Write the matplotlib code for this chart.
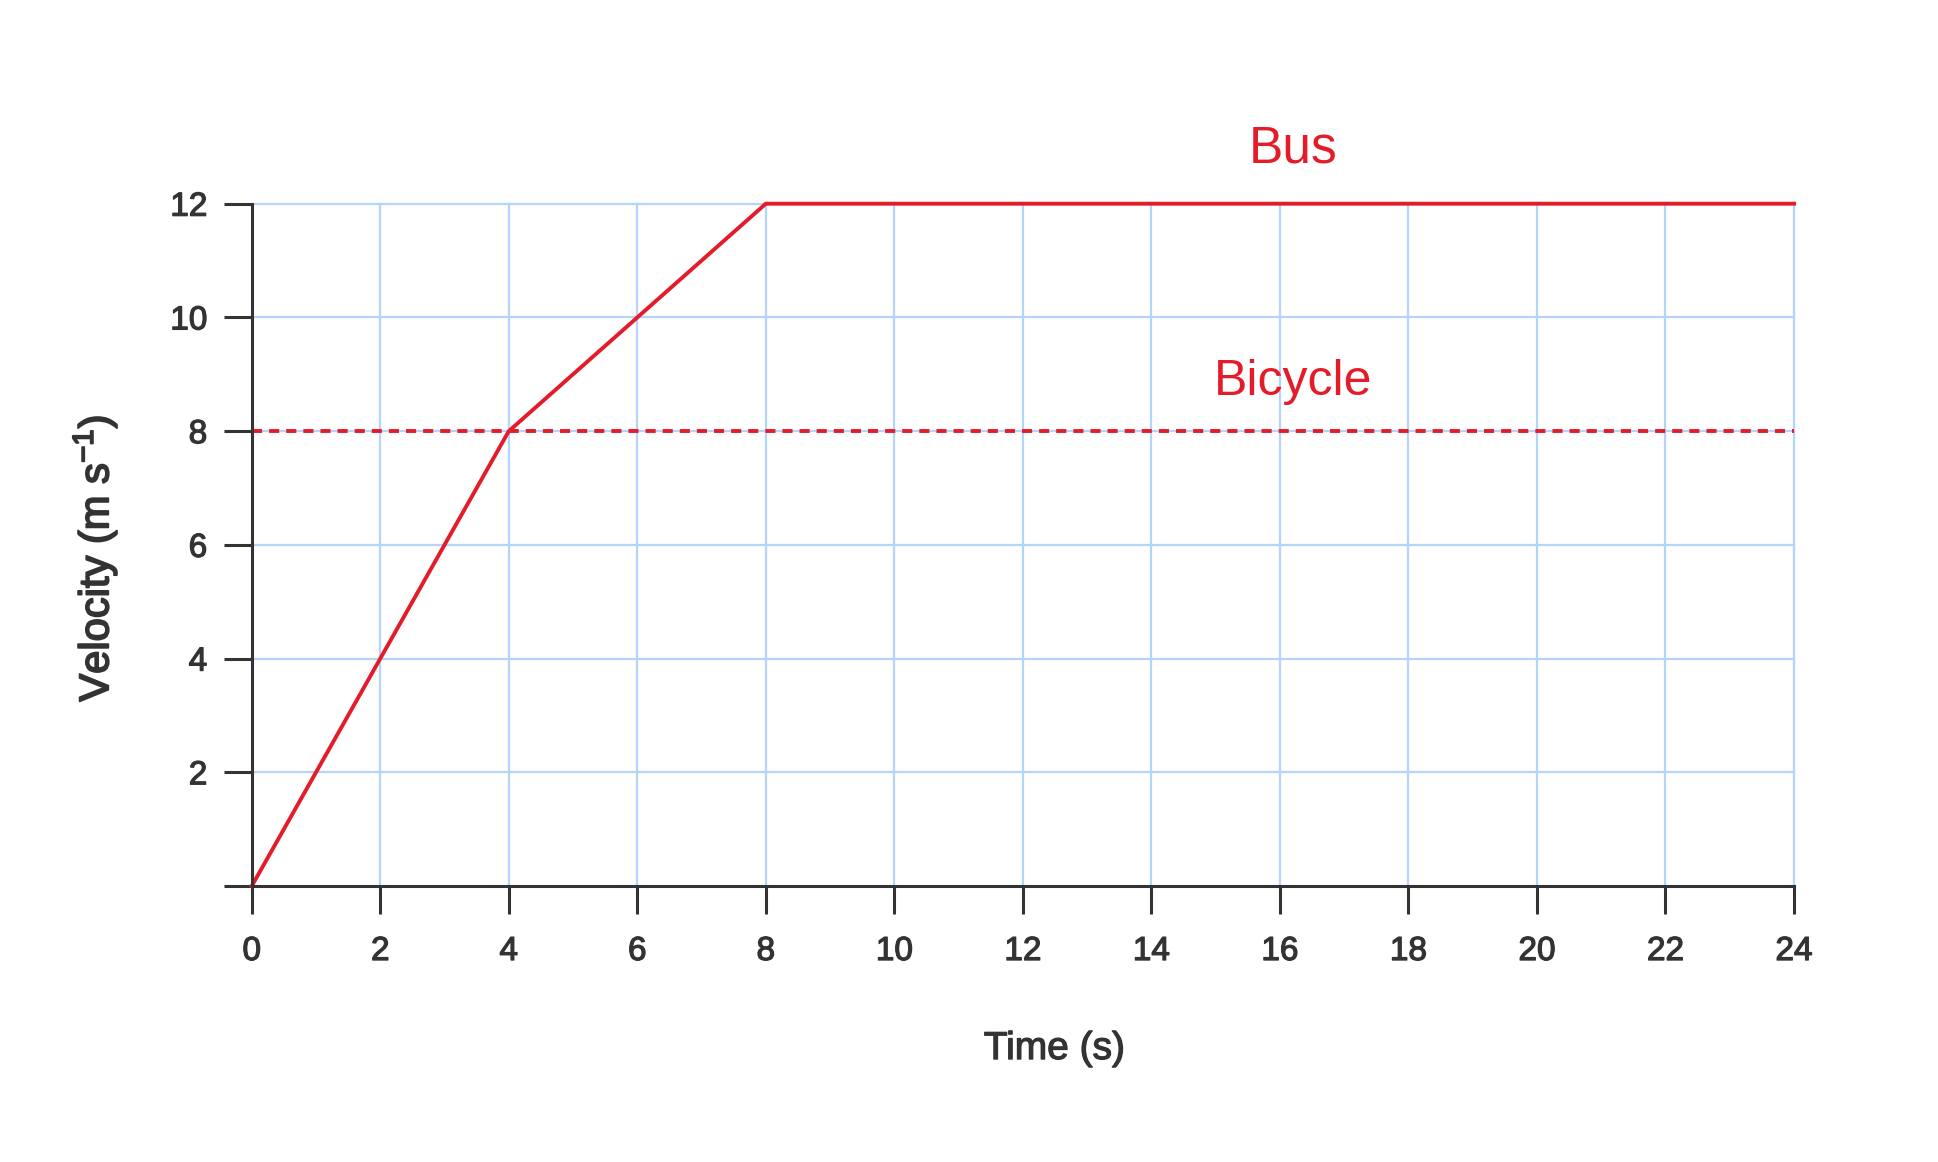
import numpy as np
import matplotlib
matplotlib.use("Agg")
import matplotlib.pyplot as plt
import matplotlib.patheffects as pe

plt.rcParams['font.family'] = ['Liberation Sans', 'DejaVu Sans']
plt.rcParams['mathtext.fontset'] = 'custom'
plt.rcParams['mathtext.rm'] = 'Liberation Sans'
plt.rcParams['mathtext.it'] = 'Liberation Sans'

# data
bus_t = [0, 4, 8, 24]
bus_v = [0, 8, 12, 12]
bike_t = [0, 24]
bike_v = [8, 8]
x_ticks = list(range(0, 25, 2))
y_ticks = list(range(0, 13, 2))
y_labels = [''] + [str(v) for v in y_ticks[1:]]

red = '#e41c2a'
dark = '#333333'
grid_col = '#b3d5fb'

# slightly heavier text, like a medium weight
medium = [pe.withStroke(linewidth=0.9, foreground=dark)]

fig = plt.figure(figsize=(19.38, 11.62), dpi=100)
ax = fig.add_axes([0.1299, 0.2375, 0.9257 - 0.1299, 0.8247 - 0.2375])

ax.set_xlim(0, 24)
ax.set_ylim(0, 12)

# grid lines
for x in x_ticks[1:]:
    ax.plot([x, x], [0, 12], color=grid_col, lw=1.6, zorder=1, clip_on=False)
for y in y_ticks[1:]:
    ax.plot([0, 24], [y, y], color=grid_col, lw=1.6, zorder=1, clip_on=False)

# series
ax.plot(bike_t, bike_v, color=red, lw=2.8, dashes=(2.6, 1.8), zorder=3, clip_on=False)
ax.plot(bus_t, bus_v, color=red, lw=2.8, zorder=4, clip_on=False,
        solid_joinstyle='miter')

ax.text(16.2, 12.72, 'Bus', color=red, fontsize=37, ha='center', va='baseline')
ax.text(16.2, 8.64, 'Bicycle', color=red, fontsize=36, ha='center', va='baseline')

# axes styling
for s in ['top', 'right']:
    ax.spines[s].set_visible(False)
for s in ['left', 'bottom']:
    ax.spines[s].set_color(dark)
    ax.spines[s].set_linewidth(2.2)
    ax.spines[s].set_zorder(5)

ax.set_xticks(x_ticks)
ax.set_yticks(y_ticks)
ax.set_yticklabels(y_labels)
ax.tick_params(axis='both', direction='out', length=20, width=2.2, color=dark,
               labelcolor=dark, labelsize=24)
ax.tick_params(axis='x', pad=16)
ax.tick_params(axis='y', pad=12)
for lab in ax.get_xticklabels() + ax.get_yticklabels():
    lab.set_path_effects(medium)

fig.text(0.544, 0.0886, 'Time (s)', color=dark, fontsize=28, ha='center',
         va='baseline', path_effects=medium)
fig.text(0.049, 0.5194, 'Velocity (m s$^{-1}$)', color=dark, fontsize=30,
         rotation=90, ha='center', va='center',
         path_effects=[pe.withStroke(linewidth=1.3, foreground=dark)])

fig.savefig('out.png', dpi=100, facecolor='white')
